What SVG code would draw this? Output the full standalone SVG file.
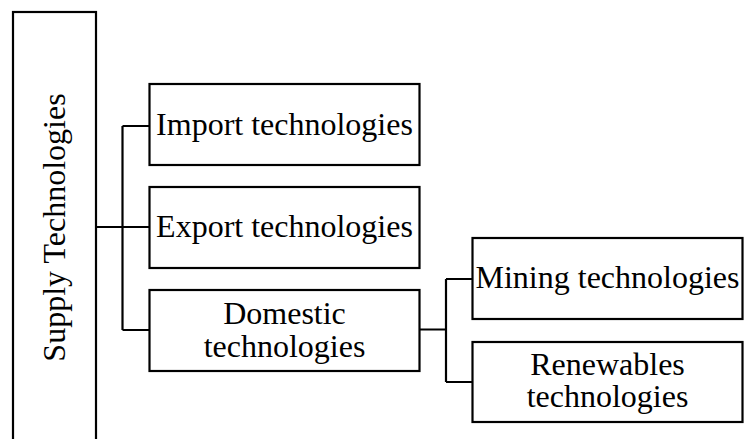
<svg xmlns="http://www.w3.org/2000/svg" width="744" height="439" viewBox="0 0 744 439">
<style>
.box{fill:#fff;stroke:#000;stroke-width:2.2}
.t{font-family:"Liberation Serif","Times New Roman",serif;font-size:32px;fill:#000;text-anchor:middle}
.c{fill:none;stroke:#000;stroke-width:2.2}
</style>
<rect width="744" height="439" fill="#fff"/>
<g id="connectors">
<path class="c" d="M96 227H149.5M122.5 126V330M122.5 126H149.5M122.5 330H149.5"/>
<path class="c" d="M419.5 329.5H446M446 279V382M446 279H472.5M446 382H472.5"/>
</g>
<g id="supply">
<rect class="box" x="13" y="12" width="83" height="440"/>
<text class="t" transform="translate(65 227.5) rotate(-90)" x="0" y="0">Supply Technologies</text>
</g>
<g id="import">
<rect class="box" x="149.5" y="84" width="270" height="81"/>
<text class="t" x="284.5" y="135">Import technologies</text>
</g>
<g id="export">
<rect class="box" x="149.5" y="187" width="270" height="81"/>
<text class="t" x="284.5" y="237">Export technologies</text>
</g>
<g id="domestic">
<rect class="box" x="149.5" y="290" width="270" height="81"/>
<text class="t" x="284.5" y="324">Domestic</text>
<text class="t" x="284.5" y="357">technologies</text>
</g>
<g id="mining">
<rect class="box" x="472.5" y="238" width="270" height="81"/>
<text class="t" x="607.5" y="288">Mining technologies</text>
</g>
<g id="renewables">
<rect class="box" x="472.5" y="342" width="270" height="80"/>
<text class="t" x="607.5" y="375">Renewables</text>
<text class="t" x="607.5" y="407">technologies</text>
</g>
</svg>
